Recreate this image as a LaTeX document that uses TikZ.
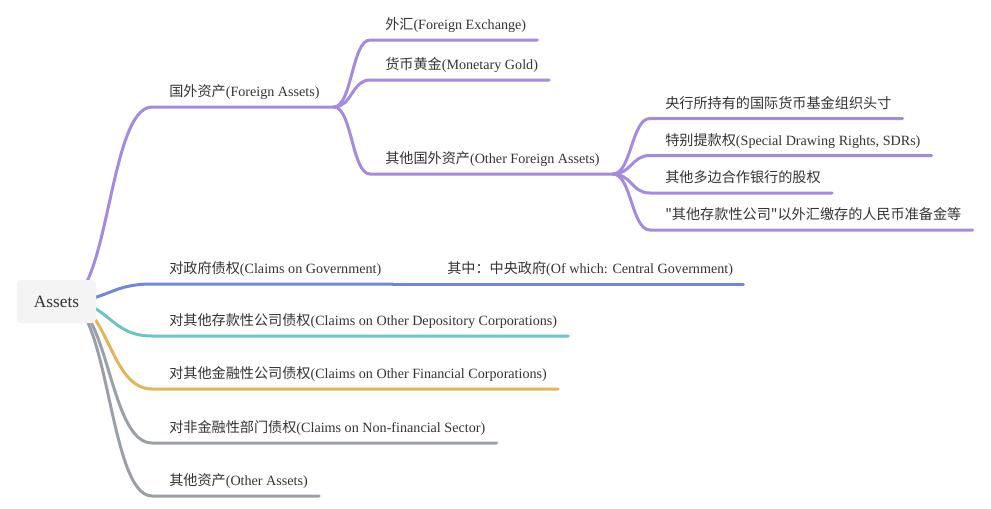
\documentclass[tikz,border=0pt]{standalone}
\usepackage{fontspec}
\setmainfont{Liberation Serif}
\newfontfamily\cjk{Noto Sans CJK SC}
\usetikzlibrary{backgrounds,calc}
\definecolor{cpur}{HTML}{A48BE0}
\definecolor{cblue}{HTML}{7086DE}
\definecolor{cteal}{HTML}{6CC5C4}
\definecolor{cyel}{HTML}{E2B658}
\definecolor{cgray}{HTML}{9AA0A8}
\definecolor{rootbg}{HTML}{F4F4F4}
\definecolor{txt}{HTML}{333333}
\newcommand{\mmlink}[5]{%
  \draw[conn,#1] let \p1=(#2), \p2=($(#3.south west)+(-#4,0)$) in
    (\p1) .. controls ({(\x1+\x2)/2},\y1) and ({(\x1+\x2)/2},\y2) .. (\p2)
    -- ($(#3.south east)+(#5,0)$) coordinate (#3-end);%
}
\begin{document}
\begin{tikzpicture}[x=0.75pt,y=-0.75pt,
  lbl/.style={anchor=south west, inner sep=0pt, text depth=7.5pt,
    font=\fontsize{10.6pt}{12pt}\selectfont, text=txt},
  conn/.style={line width=2.25pt, line cap=round},
  rootbox/.style={fill=rootbg, rounded corners=3pt, minimum width=59.25pt,
    minimum height=32.25pt, inner sep=0pt, text=txt,
    font=\fontsize{13pt}{15pt}\selectfont}]
\useasboundingbox (0,0) rectangle (991,508);
\node[rootbox] (root) at (56.5,301.5) {Assets};
\coordinate (src) at (66,301);
% level 1
\node[lbl] (fa)  at (169,107) {{\cjk 国外资产}(Foreign Assets)};
\node[lbl] (gov) at (169,284) {{\cjk 对政府债权}(Claims on Government)};
\node[lbl] (cg)  at (447,284) {{\cjk 其中：中央政府}(Of which: Central Government)};
\node[lbl] (odc) at (169,336) {{\cjk 对其他存款性公司债权}(Claims on Other Depository Corporations)};
\node[lbl] (ofc) at (169,389) {{\cjk 对其他金融性公司债权}(Claims on Other Financial Corporations)};
\node[lbl] (nfs) at (169,443) {{\cjk 对非金融性部门债权}(Claims on Non-financial Sector)};
\node[lbl] (oa)  at (169,496) {{\cjk 其他资产}(Other Assets)};
% level 2
\node[lbl] (fx)   at (385,40)  {{\cjk 外汇}(Foreign Exchange)};
\node[lbl] (gold) at (385,80)  {{\cjk 货币黄金}(Monetary Gold)};
\node[lbl] (ofa)  at (385,174) {{\cjk 其他国外资产}(Other Foreign Assets)};
% level 3
\node[lbl] (imf) at (665,118.5) {\cjk 央行所持有的国际货币基金组织头寸};
\node[lbl] (sdr) at (665,155.5) {{\cjk 特别提款权}(Special Drawing Rights, SDRs)};
\node[lbl] (mdb) at (665,193)   {\cjk 其他多边合作银行的股权};
\node[lbl] (res) at (665,230)   {\cjk "其他存款性公司"以外汇缴存的人民币准备金等};
\begin{scope}[on background layer]
  \mmlink{cpur}{src}{fa}{17}{14}
  \mmlink{cpur}{fa-end}{fx}{15}{11}
  \mmlink{cpur}{fa-end}{gold}{15}{11}
  \mmlink{cpur}{fa-end}{ofa}{15}{13}
  \mmlink{cpur}{ofa-end}{imf}{15}{11}
  \mmlink{cpur}{ofa-end}{sdr}{15}{11}
  \mmlink{cpur}{ofa-end}{mdb}{15}{11}
  \mmlink{cpur}{ofa-end}{res}{15}{11}
  \mmlink{cblue}{src}{gov}{17}{11}
  \draw[conn,cblue] (gov-end) -- ($(cg.south east)+(10,0)$);
  \mmlink{cteal}{src}{odc}{17}{11}
  \mmlink{cyel}{src}{ofc}{17}{11}
  \mmlink{cgray}{src}{nfs}{17}{11}
  \mmlink{cgray}{src}{oa}{17}{11}
\end{scope}
\end{tikzpicture}
\end{document}
